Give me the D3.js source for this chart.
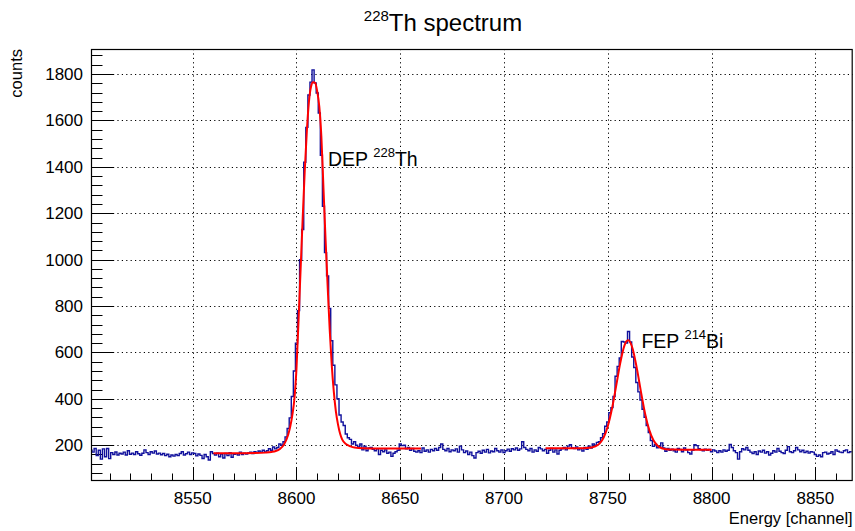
<!DOCTYPE html>
<html>
<head>
<meta charset="utf-8">
<script src="https://cdn.jsdelivr.net/npm/d3@7"></script>
<style>
  html, body { margin: 0; padding: 0; background: #fff; }
  svg { display: block; font-family: "Liberation Sans", Arial, Helvetica, sans-serif; }
</style>
</head>
<body>
<svg id="chart" width="855" height="531"></svg>
<script>
// Histogram: one bin per channel, first bin centred on channel 8501
const firstChannel = 8501;
const counts = [
  178,170,186,155,178,140,184,150,186,142,
  168,160,171,158,165,162,170,158,176,161,
  166,160,172,163,157,165,180,168,160,172,
  166,175,162,166,159,164,155,161,150,158,
  153,160,155,164,172,158,163,170,160,167,
  164,154,162,156,143,160,150,136,172,164,
  158,166,150,162,145,164,155,168,148,161,
  163,158,170,160,165,162,167,170,164,172,
  168,175,170,178,171,176,185,178,192,184,
  190,205,200,215,236,272,318,410,520,640,
  780,1000,1130,1420,1570,1710,1765,1818,1762,1718,
  1632,1450,1230,1030,930,790,650,545,460,400,
  330,300,285,248,232,225,205,215,200,192,
  205,180,196,176,188,190,182,176,185,160,
  178,172,180,165,170,152,165,172,178,205,
  198,200,185,190,178,186,174,170,176,168,
  188,174,180,170,182,176,186,178,190,205,
  182,176,186,172,180,176,184,170,196,180,
  168,175,160,170,155,145,168,174,165,178,
  170,182,167,175,172,186,176,170,180,168,
  176,183,174,185,180,188,178,184,215,190,
  182,176,186,170,180,174,190,184,176,182,
  165,178,186,170,180,162,178,184,190,180,
  196,202,188,186,192,180,186,175,190,182,
  196,188,205,200,212,215,232,250,282,300,
  340,362,410,497,540,576,647,645,640,690,
  645,580,535,470,430,395,355,320,285,255,
  220,195,203,189,195,210,188,174,186,178,
  183,176,170,186,182,172,188,180,168,162,
  178,202,198,185,180,176,183,178,182,172,
  180,175,168,176,170,180,174,178,203,190,
  176,168,140,172,185,180,190,178,170,164,
  172,160,175,170,178,166,172,158,165,176,
  170,186,174,168,164,178,194,172,168,176,
  190,180,172,178,168,174,166,172,170,160,
  152,158,150,168,170,162,165,172,160,180,
  174,170,168,176,180,168,172
];

// Fitted curves: [channel, counts]
const fitDEP = [
  [8560,165],[8570,165],[8580,166],[8585,168],[8588,171],[8590,175],[8592,184],
  [8594,203],[8596,245],[8597,280],[8598,330],[8599,400],[8600,530],[8601,740],
  [8602,960],[8603,1180],[8604,1385],[8605,1555],[8606,1680],[8607,1745],[8608,1765],
  [8609,1762],[8610,1725],[8611,1660],[8612,1530],[8613,1310],[8614,1090],[8615,890],
  [8616,700],[8617,545],[8618,430],[8619,345],[8620,290],[8621,250],[8622,225],
  [8624,204],[8626,195],[8628,190],[8632,187],[8640,186],[8650,186],[8660,186]
];
const fitFEP = [
  [8720,187],[8730,187],[8736,187],[8740,188],[8742,190],[8744,195],[8746,207],
  [8748,233],[8750,282],[8752,357],[8754,454],[8756,554],[8758,629],[8759,648],
  [8760,652],[8761,640],[8762,615],[8764,531],[8766,429],[8768,335],[8770,265],
  [8772,221],[8774,198],[8776,187],[8778,183],[8782,181],[8790,180],[8800,180]
];

// Axis ticks
const xMajorTicks = [8550, 8600, 8650, 8700, 8750, 8800, 8850];
const xMinorTicks = d3.range(8510, 8868, 10);
const yMajorTicks = [200, 400, 600, 800, 1000, 1200, 1400, 1600, 1800];
const yMinorTicks = d3.range(80, 1908, 40);

// Peak annotations
const peakLabels = [
  { text: "DEP ", sup: "228", tail: "Th", ch: 8615.2, val: 1440 },
  { text: "FEP ", sup: "214", tail: "Bi", ch: 8766.2, val: 652 }
];

const xDomain = [8501, 8868];
const yDomain = [50, 1908];

const frame = { left: 91, right: 852.7, top: 49, bottom: 480 };

const svg = d3.select("#chart");
svg.append("rect").attr("width", 855).attr("height", 531).attr("fill", "#fff");

const x = d3.scaleLinear().domain(xDomain).range([frame.left, frame.right]);
const y = d3.scaleLinear().domain(yDomain).range([frame.bottom, frame.top]);

svg.append("defs").append("clipPath").attr("id", "plotClip")
  .append("rect")
  .attr("x", frame.left).attr("y", frame.top)
  .attr("width", frame.right - frame.left).attr("height", frame.bottom - frame.top);

// Dotted grid
const grid = svg.append("g").attr("stroke", "#000").attr("stroke-width", 1)
  .attr("stroke-dasharray", "1.2,3.2");
grid.selectAll("line.gx").data(xMajorTicks).join("line")
  .attr("x1", d => Math.round(x(d)) + 0.5).attr("x2", d => Math.round(x(d)) + 0.5)
  .attr("y1", frame.top).attr("y2", frame.bottom);
grid.selectAll("line.gy").data(yMajorTicks).join("line")
  .attr("y1", d => Math.round(y(d)) + 0.5).attr("y2", d => Math.round(y(d)) + 0.5)
  .attr("x1", frame.left).attr("x2", frame.right);

// Ticks (pointing into the frame)
const ticks = svg.append("g").attr("stroke", "#000").attr("stroke-width", 1);
const xMajLen = 13, xMinLen = 6.5, yMajLen = 23, yMinLen = 11.5;
ticks.selectAll("line.xt").data(xMinorTicks).join("line")
  .attr("x1", d => Math.round(x(d)) + 0.5).attr("x2", d => Math.round(x(d)) + 0.5)
  .attr("y1", frame.bottom)
  .attr("y2", d => frame.bottom - (xMajorTicks.includes(d) ? xMajLen : xMinLen));
ticks.selectAll("line.yt").data(yMinorTicks).join("line")
  .attr("y1", d => Math.round(y(d)) + 0.5).attr("y2", d => Math.round(y(d)) + 0.5)
  .attr("x1", frame.left)
  .attr("x2", d => frame.left + (yMajorTicks.includes(d) ? yMajLen : yMinLen));

// Histogram as a step line over bin edges
const bins = counts.map((c, i) => ({ lo: firstChannel + i - 0.5, v: c }));
const stepPts = bins.map(b => [b.lo, b.v]);
stepPts.push([firstChannel + counts.length - 0.5, counts[counts.length - 1]]);
const plot = svg.append("g").attr("clip-path", "url(#plotClip)");
plot.append("path")
  .attr("d", d3.line().x(d => x(d[0])).y(d => y(d[1])).curve(d3.curveStepAfter)(stepPts))
  .attr("fill", "none").attr("stroke", "#10109c").attr("stroke-width", 1.4);

// Fit curves
const fitLine = d3.line().x(d => x(d[0])).y(d => y(d[1])).curve(d3.curveMonotoneX);
[fitDEP, fitFEP].forEach(f => {
  plot.append("path").attr("d", fitLine(f))
    .attr("fill", "none").attr("stroke", "#ff0000").attr("stroke-width", 2);
});

// Frame
svg.append("rect")
  .attr("x", frame.left + 0.5).attr("y", frame.top + 0.5)
  .attr("width", frame.right - frame.left - 1).attr("height", frame.bottom - frame.top)
  .attr("fill", "none").attr("stroke", "#000").attr("stroke-width", 1.2);

// Tick labels
const labelSize = 17;
svg.append("g").selectAll("text").data(xMajorTicks).join("text")
  .attr("x", d => x(d)).attr("y", 504)
  .attr("text-anchor", "middle").attr("font-size", labelSize).attr("fill", "#000")
  .text(d => d);
svg.append("g").selectAll("text").data(yMajorTicks).join("text")
  .attr("x", 83).attr("y", d => y(d) + 6)
  .attr("text-anchor", "end").attr("font-size", labelSize).attr("fill", "#000")
  .text(d => d);

// Axis titles
svg.append("text").attr("x", frame.right).attr("y", 524)
  .attr("text-anchor", "end").attr("font-size", 16.5).text("Energy [channel]");
svg.append("text").attr("transform", `translate(22,${frame.top}) rotate(-90)`)
  .attr("text-anchor", "end").attr("font-size", 16.5).text("counts");

// Title with superscript mass number
const title = svg.append("text").attr("x", 443).attr("y", 31)
  .attr("text-anchor", "middle");
title.append("tspan").attr("font-size", 15).attr("dy", -10).text("228");
title.append("tspan").attr("font-size", 24).attr("dy", 10).text("Th spectrum");

// Peak labels
peakLabels.forEach(p => {
  const t = svg.append("text").attr("x", x(p.ch)).attr("y", y(p.val) + 8);
  t.append("tspan").attr("font-size", 19.5).text(p.text);
  t.append("tspan").attr("font-size", 13).attr("dy", -9).text(p.sup);
  t.append("tspan").attr("font-size", 19.5).attr("dy", 9).text(p.tail);
});
</script>
</body>
</html>
